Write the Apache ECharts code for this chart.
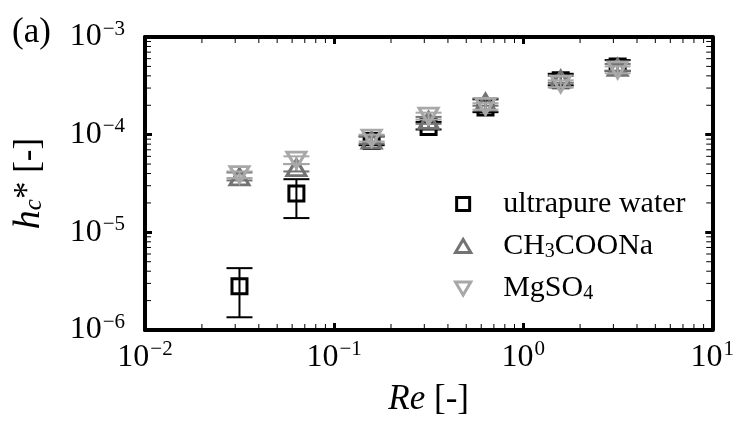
<!DOCTYPE html>
<html>
<head>
<meta charset="utf-8">
<script src="https://cdn.jsdelivr.net/npm/echarts@6/dist/echarts.min.js"></script>
<style>
  html, body { margin: 0; padding: 0; background: #fff; }
  #main { width: 737px; height: 427px; }
</style>
</head>
<body>
<div id="main"></div>
<script>
// Re values (same for every liquid)
const reynolds = [0.0316, 0.0632, 0.158, 0.316, 0.632, 1.58, 3.16];

// ultrapure water
const waterY  = [2.8e-6, 2.5e-5, 8.6e-5, 1.2e-4, 1.9e-4, 3.6e-4, 5.0e-4];
const waterLo = [1.35e-6, 1.4e-5, 7.8e-5, 1.13e-4, 1.7e-4, 3.2e-4, 4.5e-4];
const waterHi = [4.3e-6, 3.5e-5, 9.6e-5, 1.35e-4, 2.3e-4, 4.2e-4, 5.8e-4];

// CH3COONa
const acetateY  = [3.7e-5, 4.6e-5, 8.8e-5, 1.4e-4, 2.15e-4, 3.7e-4, 4.9e-4];
const acetateLo = [3.4e-5, 4.2e-5, 8.1e-5, 1.29e-4, 1.98e-4, 3.4e-4, 4.5e-4];
const acetateHi = [4.1e-5, 5.0e-5, 9.6e-5, 1.52e-4, 2.35e-4, 4.0e-4, 5.3e-4];

// MgSO4
const sulfateY  = [3.9e-5, 5.5e-5, 9.2e-5, 1.55e-4, 1.95e-4, 3.3e-4, 4.6e-4];
const sulfateLo = [3.6e-5, 5.0e-5, 8.5e-5, 1.43e-4, 1.8e-4, 3.05e-4, 4.25e-4];
const sulfateHi = [4.2e-5, 6.0e-5, 1.0e-4, 1.68e-4, 2.1e-4, 3.6e-4, 5.0e-4];

const seriesNames = ['ultrapure water', 'CH3COONa', 'MgSO4'];
const seriesColors = ['#000000', '#737373', '#a8a8a8'];

const xDecades = [0.01, 0.1, 1];
const yDecades = [1e-6, 1e-5, 1e-4];

const FONT = '"Liberation Serif", "Times New Roman", serif';

// minor tick positions 2..9 inside each decade
const minorX = [];
xDecades.forEach(d => { for (let m = 2; m <= 9; m++) minorX.push([m * d, 1e-5]); });
const minorY = [];
yDecades.forEach(d => { for (let m = 2; m <= 9; m++) minorY.push([0.1, m * d]); });

const pts = (ys) => reynolds.map((x, i) => [x, ys[i]]);
const bars = (lo, hi) => reynolds.map((x, i) => [x, lo[i], hi[i]]);

const powLabel = (v) => {
  const e = Math.round(Math.log10(v));
  return '{b|10}{e|' + (e < 0 ? '\u2212' + (-e) : e) + '}';
};
const powRich = {
  b: { fontFamily: FONT, fontSize: 32, color: '#000' },
  e: { fontFamily: FONT, fontSize: 21, color: '#000', padding: [0, 0, 16, 1] }
};

function errorBarItem(params, api) {
  const x = api.value(0);
  const lo = api.coord([x, api.value(1)]);
  const hi = api.coord([x, api.value(2)]);
  const half = 13;
  const style = { stroke: api.visual('color'), lineWidth: 2 };
  return {
    type: 'group',
    children: [
      { type: 'line', shape: { x1: lo[0], y1: lo[1], x2: hi[0], y2: hi[1] }, style },
      { type: 'line', shape: { x1: hi[0] - half, y1: hi[1], x2: hi[0] + half, y2: hi[1] }, style },
      { type: 'line', shape: { x1: lo[0] - half, y1: lo[1], x2: lo[0] + half, y2: lo[1] }, style }
    ]
  };
}

function minorXItem(params, api) {
  const cs = params.coordSys;
  const x = api.coord([api.value(0), api.value(1)])[0];
  const style = { stroke: '#000', lineWidth: 1 };
  return {
    type: 'group',
    children: [
      { type: 'line', shape: { x1: x, y1: cs.y + cs.height, x2: x, y2: cs.y + cs.height - 6 }, style },
      { type: 'line', shape: { x1: x, y1: cs.y, x2: x, y2: cs.y + 6 }, style }
    ]
  };
}

function minorYItem(params, api) {
  const cs = params.coordSys;
  const y = api.coord([api.value(0), api.value(1)])[1];
  const style = { stroke: '#000', lineWidth: 1 };
  return {
    type: 'group',
    children: [
      { type: 'line', shape: { x1: cs.x, y1: y, x2: cs.x + 6, y2: y }, style },
      { type: 'line', shape: { x1: cs.x + cs.width, y1: y, x2: cs.x + cs.width - 6, y2: y }, style }
    ]
  };
}

const chart = echarts.init(document.getElementById('main'));

const xBase = {
  type: 'log', logBase: 10, min: 0.01, max: 10,
  axisLine: { show: true, lineStyle: { color: '#000', width: 4 } },
  axisTick: { inside: true, length: 7, lineStyle: { color: '#000', width: 3 } },
  splitLine: { show: false }
};
const yBase = {
  type: 'log', logBase: 10, min: 1e-6, max: 1e-3,
  axisLine: { show: true, lineStyle: { color: '#000', width: 4 } },
  axisTick: { inside: true, length: 7, lineStyle: { color: '#000', width: 3 } },
  splitLine: { show: false }
};

const markerSymbols = ['rect', 'triangle', 'path://M0,0L20,0L10,17Z'];
const legendIcons = ['path://M0,0H10V10H0Z', 'path://M10,0L20,17L0,17Z', 'path://M0,0L20,0L10,17Z'];
const markerSizes = [15, [19, 16], [19, 16]];
const values = [waterY, acetateY, sulfateY];
const errs = [[waterLo, waterHi], [acetateLo, acetateHi], [sulfateLo, sulfateHi]];

const series = [
  { type: 'custom', silent: true, renderItem: minorXItem, data: minorX, z: 1 },
  { type: 'custom', silent: true, renderItem: minorYItem, data: minorY, z: 1 }
];
seriesNames.forEach((name, i) => {
  series.push({
    name: name,
    type: 'custom',
    renderItem: errorBarItem,
    itemStyle: { color: seriesColors[i] },
    encode: { x: 0, y: [1, 2] },
    data: bars(errs[i][0], errs[i][1]),
    z: 2 + i * 2
  });
  series.push({
    name: name,
    type: 'scatter',
    symbol: markerSymbols[i],
    symbolSize: markerSizes[i],
    itemStyle: { color: 'rgba(0,0,0,0)', borderColor: seriesColors[i], borderWidth: 3, opacity: 1 },
    data: pts(values[i]),
    z: 3 + i * 2
  });
});

const option = {
  animation: false,
  backgroundColor: '#fff',
  textStyle: { fontFamily: FONT, color: '#000' },
  grid: { left: 145, right: 19, top: 37, bottom: 97 },
  xAxis: [
    Object.assign({}, xBase, {
      position: 'bottom',
      name: '{i|Re} [-]',
      nameLocation: 'middle',
      nameGap: 52,
      nameTextStyle: {
        fontFamily: FONT, fontSize: 35, color: '#000',
        rich: { i: { fontFamily: FONT, fontSize: 35, fontStyle: 'italic', color: '#000' } }
      },
      axisLabel: { margin: 9, formatter: powLabel, rich: powRich }
    }),
    Object.assign({}, xBase, { position: 'top', axisLabel: { show: false } })
  ],
  yAxis: [
    Object.assign({}, yBase, {
      position: 'left',
      name: '{i|h}{s|c}* [-]',
      nameLocation: 'middle',
      nameGap: 97,
      nameTextStyle: {
        fontFamily: FONT, fontSize: 35, color: '#000',
        rich: {
          i: { fontFamily: FONT, fontSize: 38, fontStyle: 'italic', color: '#000' },
          s: { fontFamily: FONT, fontSize: 25, fontStyle: 'italic', color: '#000', padding: [11, 0, 0, 0] }
        }
      },
      axisLabel: { margin: 20, formatter: powLabel, rich: powRich }
    }),
    Object.assign({}, yBase, { position: 'right', axisLabel: { show: false } })
  ],
  legend: {
    orient: 'vertical',
    left: 449,
    top: 184,
    itemWidth: 70,
    itemHeight: 13,
    itemGap: 12,
    selectedMode: false,
    data: seriesNames.map((n, i) => ({
      name: n,
      icon: legendIcons[i],
      itemStyle: { color: 'rgba(0,0,0,0)', borderColor: seriesColors[i], borderWidth: 3 }
    })),
    formatter: (name) => name.replace(/(\d)/g, '{s|$1}'),
    textStyle: {
      fontFamily: FONT, fontSize: 30, color: '#000',
      rich: { s: { fontFamily: FONT, fontSize: 20, color: '#000', padding: [11, 0, 0, 0] } }
    }
  },
  graphic: [
    { type: 'text', left: 12, top: 15, style: { text: '(a)', font: '35px ' + FONT, fill: '#000' } }
  ],
  series: series
};

chart.setOption(option);
</script>
</body>
</html>
